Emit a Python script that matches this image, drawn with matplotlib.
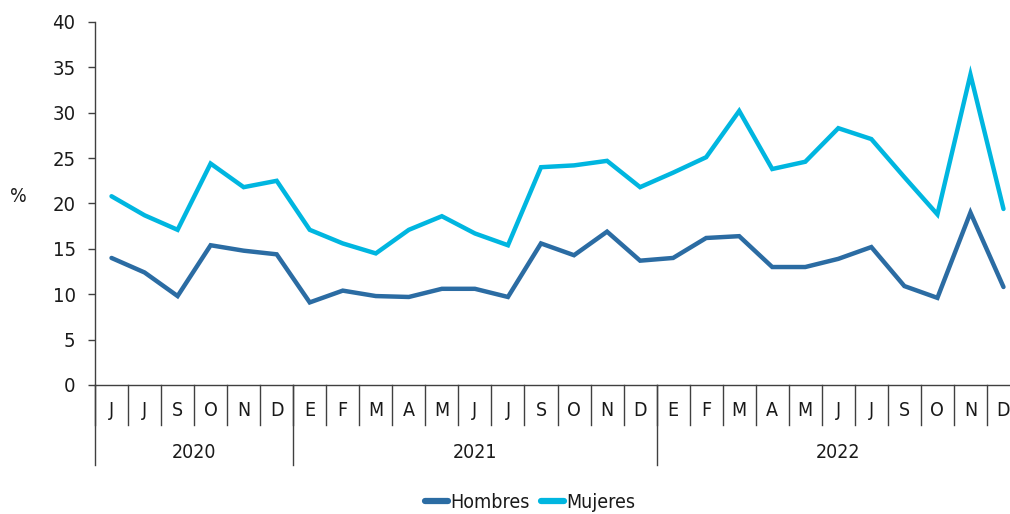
import matplotlib
matplotlib.use("Agg")
import matplotlib.pyplot as plt
import numpy as np

plt.rcParams['font.family'] = ['DejaVu Sans']
plt.rcParams['font.stretch'] = 'condensed'

months = ["J", "J", "S", "O", "N", "D",
          "E", "F", "M", "A", "M", "J", "J", "S", "O", "N", "D",
          "E", "F", "M", "A", "M", "J", "J", "S", "O", "N", "D"]
years = ["2020", "2021", "2022"]
year_counts = [6, 11, 11]

hombres = [14.0, 12.4, 9.8, 15.4, 14.8, 14.4,
           9.1, 10.4, 9.8, 9.7, 10.6, 10.6, 9.7, 15.6, 14.3, 16.9, 13.7,
           14.0, 16.2, 16.4, 13.0, 13.0, 13.9, 15.2, 10.9, 9.6, 19.0, 10.8]
mujeres = [20.8, 18.7, 17.1, 24.4, 21.8, 22.5,
           17.1, 15.6, 14.5, 17.1, 18.6, 16.7, 15.4, 24.0, 24.2, 24.7, 21.8,
           23.4, 25.1, 30.2, 23.8, 24.6, 28.3, 27.1, 22.9, 18.8, 34.2, 19.4]

C_H = "#2B6CA3"
C_M = "#00B6E0"
TXT = "#1a1a1a"
AX = "#404040"

W, H = 1010, 514
fig = plt.figure(figsize=(W / 100, H / 100), dpi=100)
left, right, top, bottom = 95, 1020, 22, 385
ax = fig.add_axes([left / W, 1 - bottom / H, (right - left) / W, (bottom - top) / H])

x = np.arange(len(months))
ax.plot(x, hombres, color=C_H, lw=3.2, solid_joinstyle='miter', solid_capstyle='round', label="Hombres")
ax.plot(x, mujeres, color=C_M, lw=3.2, solid_joinstyle='miter', solid_capstyle='round', label="Mujeres")

ax.set_xlim(-0.5, len(months) - 0.5)
ax.set_ylim(0, 40)
ax.set_yticks(np.arange(0, 41, 5))
ax.tick_params(axis='y', length=5, width=1, color=AX, pad=9, labelsize=14.5, labelcolor=TXT)
ax.set_xticks([])

for s in ['top', 'right']:
    ax.spines[s].set_visible(False)
ax.spines['left'].set_color(AX)
ax.spines['bottom'].set_color(AX)
ax.spines['left'].set_linewidth(1)
ax.spines['bottom'].set_linewidth(1)

ah = bottom - top
trans = ax.get_xaxis_transform()
for i in range(len(months) + 1):
    ax.plot([i - 0.5, i - 0.5], [0, -40 / ah], transform=trans, color=AX, lw=1, clip_on=False)
for i, m in enumerate(months):
    ax.text(i, -26 / ah, m, transform=trans, ha='center', va='center', fontsize=14, color=TXT)

bounds = [0]
for c in year_counts:
    bounds.append(bounds[-1] + c)
for b in bounds:
    ax.plot([b - 0.5, b - 0.5], [0, -80 / ah], transform=trans, color=AX, lw=1, clip_on=False)
for y, a, b in zip(years, bounds[:-1], bounds[1:]):
    ax.text((a + b - 1) / 2, -67 / ah, y, transform=trans, ha='center', va='center', fontsize=14, color=TXT)

ax.text((18 - left) / (right - left), (bottom - 197) / ah, "%", transform=ax.transAxes,
        ha='center', va='center', fontsize=14, color=TXT)

leg = fig.legend(loc='center', bbox_to_anchor=(530 / W, 1 - 502 / H), ncol=2, frameon=False,
                 fontsize=14, handlelength=1.2, handletextpad=0.1, columnspacing=0.6)
for t in leg.get_texts():
    t.set_color(TXT)
for l in leg.get_lines():
    l.set_linewidth(4.5)
    l.set_solid_capstyle('round')

fig.savefig("out.png", dpi=100)
